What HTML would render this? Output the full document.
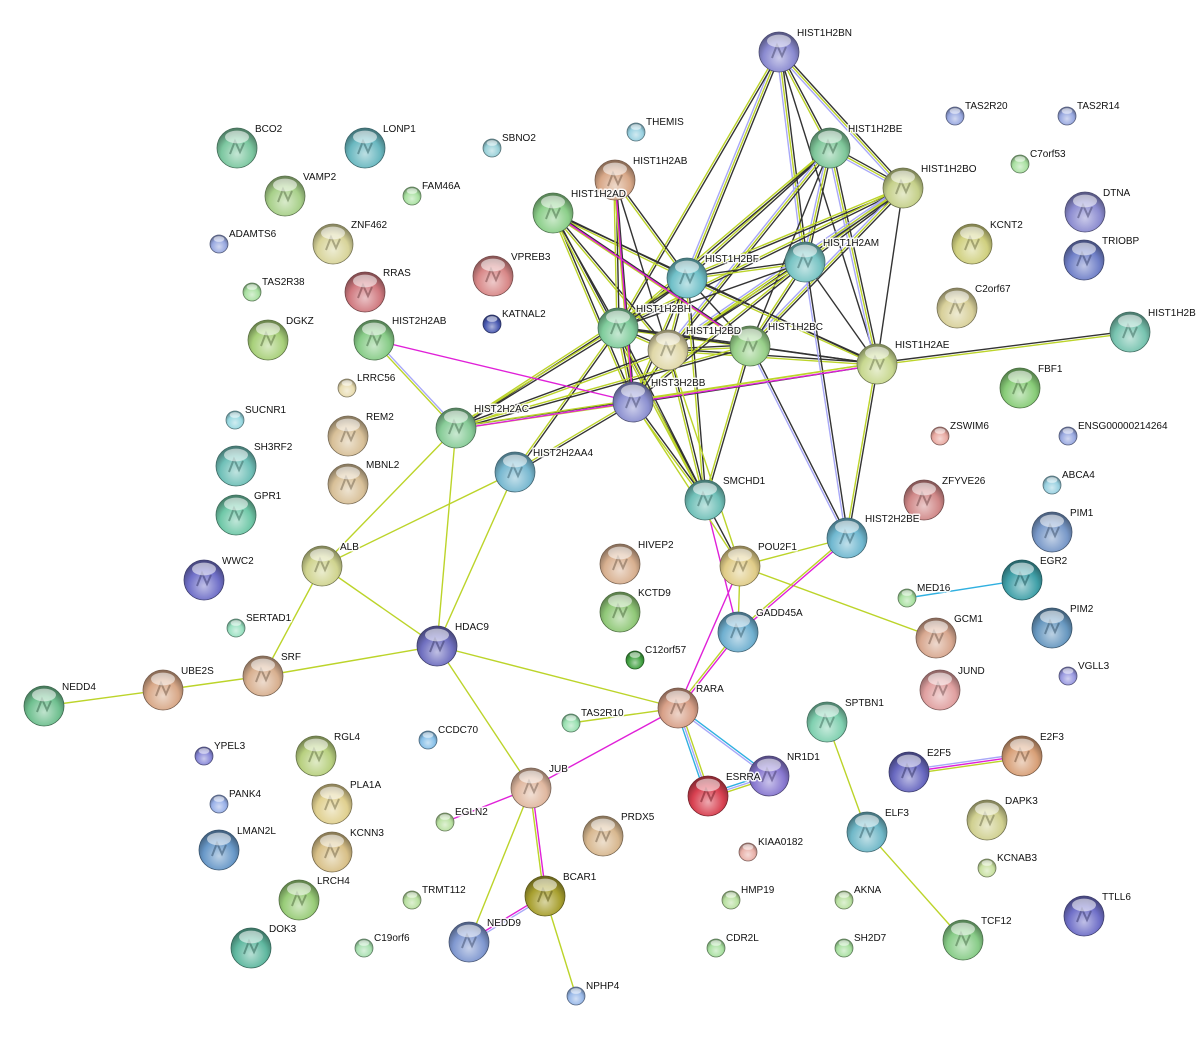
<!DOCTYPE html>
<html><head><meta charset="utf-8">
<style>
html,body{margin:0;padding:0;background:#fff;}
svg{display:block;}
text{font-family:"Liberation Sans",Arial,sans-serif;font-size:10px;fill:#111;}
</style></head>
<body>
<svg id="s" width="1201" height="1042" viewBox="0 0 1201 1042" xmlns="http://www.w3.org/2000/svg">
<defs id="d"></defs>
<g id="e"></g><g id="n"></g><g id="t"></g>
</svg>
<script>
const L=20,S=9;
const N={
"HIST1H2BN":[779,52,L,"#8a8ad0"],"HIST1H2BE":[830,148,L,"#7fc79a"],"HIST1H2BO":[903,188,L,"#c5d08a"],
"BCO2":[237,148,L,"#7cc7a0"],"LONP1":[365,148,L,"#6ab8c0"],"VAMP2":[285,196,L,"#a8d08a"],
"ZNF462":[333,244,L,"#d8d49a"],"HIST1H2AB":[615,180,L,"#d8a888"],"HIST1H2AD":[553,213,L,"#8ccf8a"],
"VPREB3":[493,276,L,"#d88888"],"HIST1H2BF":[687,278,L,"#70c0c8"],"HIST1H2AM":[805,262,L,"#78c4c4"],
"KCNT2":[972,244,L,"#d0d080"],"DTNA":[1085,212,L,"#8c8cd0"],"TRIOBP":[1084,260,L,"#7080c8"],
"RRAS":[365,292,L,"#d07a80"],"C2orf67":[957,308,L,"#d8d09a"],"DGKZ":[268,340,L,"#a8d07a"],
"HIST2H2AB":[374,340,L,"#88cc88"],"HIST1H2BH":[618,328,L,"#80cc9c"],"HIST1H2BD":[668,350,L,"#e0d8a8"],
"HIST1H2BC":[750,346,L,"#98d08a"],"HIST1H2AE":[877,364,L,"#c8d890"],"HIST1H2B":[1130,332,L,"#78c4b0"],
"FBF1":[1020,388,L,"#88cc78"],"HIST3H2BB":[633,402,L,"#8c90d0"],"REM2":[348,436,L,"#d8c098"],
"HIST2H2AC":[456,428,L,"#88cc98"],"HIST2H2AA4":[515,472,L,"#78b8d0"],"SH3RF2":[236,466,L,"#70c0b8"],
"MBNL2":[348,484,L,"#d8c098"],"ZFYVE26":[924,500,L,"#d08888"],"SMCHD1":[705,500,L,"#70c0b8"],
"GPR1":[236,515,L,"#70c8a8"],"PIM1":[1052,532,L,"#7898c8"],"HIST2H2BE":[847,538,L,"#70b8d0"],
"ALB":[322,566,L,"#d0d490"],"HIVEP2":[620,564,L,"#d8b090"],"POU2F1":[740,566,L,"#e0cc88"],
"WWC2":[204,580,L,"#7070c8"],"EGR2":[1022,580,L,"#40a0a8"],"KCTD9":[620,612,L,"#90c878"],
"GADD45A":[738,632,L,"#70b0d0"],"GCM1":[936,638,L,"#d8a890"],"PIM2":[1052,628,L,"#6898c0"],
"HDAC9":[437,646,L,"#7070c0"],"SRF":[263,676,L,"#d8b090"],"UBE2S":[163,690,L,"#d8a888"],
"NEDD4":[44,706,L,"#70c090"],"JUND":[940,690,L,"#e0a0a0"],"RARA":[678,708,L,"#d8a088"],
"SPTBN1":[827,722,L,"#80d0b0"],"NR1D1":[769,776,L,"#8878d0"],"ESRRA":[708,796,L,"#d84050"],
"E2F5":[909,772,L,"#6868c0"],"E2F3":[1022,756,L,"#d8a078"],"RGL4":[316,756,L,"#b8d080"],
"JUB":[531,788,L,"#e0b8a0"],"PLA1A":[332,804,L,"#e0d090"],"LMAN2L":[219,850,L,"#6898c8"],
"KCNN3":[332,852,L,"#d8c088"],"PRDX5":[603,836,L,"#d8b890"],"ELF3":[867,832,L,"#70b8c8"],
"DAPK3":[987,820,L,"#d0d090"],"LRCH4":[299,900,L,"#98cc78"],"BCAR1":[545,896,L,"#a8a030"],
"DOK3":[251,948,L,"#60b8a0"],"NEDD9":[469,942,L,"#8098d0"],"TCF12":[963,940,L,"#88cc88"],
"TTLL6":[1084,916,L,"#7070c8"],
"TAS2R20":[955,116,S,"#98a8e0"],"TAS2R14":[1067,116,S,"#98a8e0"],"THEMIS":[636,132,S,"#98d0e0"],
"SBNO2":[492,148,S,"#98d0d8"],"C7orf53":[1020,164,S,"#a8e0a0"],"FAM46A":[412,196,S,"#a8e0a0"],
"ADAMTS6":[219,244,S,"#98a8e0"],"TAS2R38":[252,292,S,"#a8e0a0"],"KATNAL2":[492,324,S,"#4858b0"],
"LRRC56":[347,388,S,"#e8dcb0"],"SUCNR1":[235,420,S,"#98d8e0"],"ZSWIM6":[940,436,S,"#e8a8a0"],
"ENSG00000214264":[1068,436,S,"#98a8e0"],"ABCA4":[1052,485,S,"#98d0e0"],"MED16":[907,598,S,"#a8e0a0"],
"SERTAD1":[236,628,S,"#98e0c0"],"C12orf57":[635,660,S,"#40a040"],"VGLL3":[1068,676,S,"#9898e0"],
"TAS2R10":[571,723,S,"#98e0b0"],"CCDC70":[428,740,S,"#88c0e8"],"YPEL3":[204,756,S,"#8888d8"],
"PANK4":[219,804,S,"#98b0e8"],"EGLN2":[445,822,S,"#b8e0a0"],"KIAA0182":[748,852,S,"#e8b0a8"],
"KCNAB3":[987,868,S,"#c8e0a0"],"TRMT112":[412,900,S,"#b8e0a0"],"HMP19":[731,900,S,"#b8e0a0"],
"AKNA":[844,900,S,"#b8e0a0"],"C19orf6":[364,948,S,"#a8e0b0"],"CDR2L":[716,948,S,"#a8e0a0"],
"SH2D7":[844,948,S,"#a8e0a0"],"NPHP4":[576,996,S,"#98b8e8"]};
const K="#333",Y="#bcd42a",P="#a8a8f8",M="#e020d8",B="#30b0e0";
const E=[];
function e(a,b,c){E.push([a,b,c]);}
const h="HIST1H2";
let idx=0;
[["BN","BF"],["BN","BE"],["BN","BO"],["BN","BH"],["BN","AM"],["BN","AE"],
["BE","BO"],["BE","BF"],["BE","AM"],["BE","BH"],["BE","BD"],["BE","BC"],["BE","AE"],
["BO","BF"],["BO","AM"],["BO","BH"],["BO","BC"],["BO","AE"],["BO","BD"],
["AD","BF"],["AD","BH"],["AD","BD"],["AD","BC"],["AD","AE"],
["AB","BH"],["AB","BF"],["AB","BD"],
["BF","BH"],["BF","BD"],["BF","BC"],["BF","AM"],["BF","AE"],
["AM","BH"],["AM","BD"],["AM","BC"],["AM","AE"],
["BH","BD"],["BH","BC"],["BH","AE"],["BD","BC"],["BD","AE"],["BC","AE"]].forEach(p=>{idx++;
 const c=(p[0]=="BN"||p[0]=="BE"||p[0]=="BO")&&idx%2?[K,Y,P]:(idx%3==0?[K]:[K,Y]);e(h+p[0],h+p[1],c);});
[["HIST1H2AD","HIST3H2BB"],["HIST1H2AD","SMCHD1"],["HIST1H2AB","HIST3H2BB"],["HIST1H2BF","HIST3H2BB"],
["HIST1H2BF","SMCHD1"],["HIST1H2BF","HIST2H2AC"],["HIST1H2AM","HIST3H2BB"],["HIST1H2BH","HIST2H2AC"],
["HIST1H2BH","HIST2H2AA4"],["HIST1H2BH","SMCHD1"],["HIST1H2BH","HIST3H2BB"],["HIST1H2BD","HIST3H2BB"],
["HIST1H2BD","SMCHD1"],["HIST1H2BC","SMCHD1"],["HIST1H2BC","HIST2H2AC"],["HIST1H2AE","HIST3H2BB"],
["HIST2H2AC","HIST1H2BD"],["HIST3H2BB","SMCHD1"],["HIST3H2BB","HIST2H2AA4"],["HIST2H2AC","HIST3H2BB"]].forEach(p=>e(p[0],p[1],[K,Y]));
e("HIST1H2AM","HIST2H2BE",[K,P]);e("HIST1H2BC","HIST2H2BE",[K,P]);
e("HIST1H2AE","HIST1H2B",[K,Y]);e("HIST1H2AE","HIST2H2BE",[K,Y]);
e("HIST1H2AE","HIST2H2AC",[M,Y]);e("HIST2H2AB","HIST2H2AC",[P,Y]);e("HIST2H2AB","HIST3H2BB",[M]);
e("HIST1H2AD","HIST1H2BC",[M]);e("HIST1H2AB","HIST3H2BB",[M]);
e("HIST2H2AC","ALB",[Y]);e("HIST2H2AC","HDAC9",[Y]);e("HIST2H2AA4","ALB",[Y]);e("HIST2H2AA4","HDAC9",[Y]);
e("SMCHD1","GADD45A",[M]);e("SMCHD1","POU2F1",[K]);e("HIST3H2BB","POU2F1",[Y]);e("HIST1H2BD","POU2F1",[Y]);
e("POU2F1","HIST2H2BE",[Y]);e("POU2F1","GADD45A",[Y]);e("POU2F1","GCM1",[Y]);e("POU2F1","RARA",[M]);
e("HIST2H2BE","GADD45A",[M,Y]);e("GADD45A","RARA",[M,Y]);
e("ALB","SRF",[Y]);e("ALB","HDAC9",[Y]);e("SRF","UBE2S",[Y]);e("UBE2S","NEDD4",[Y]);e("SRF","HDAC9",[Y]);
e("HDAC9","RARA",[Y]);e("HDAC9","JUB",[Y]);e("RARA","JUB",[M]);e("RARA","NR1D1",[B,P]);
e("RARA","ESRRA",[Y,P,B]);e("NR1D1","ESRRA",[Y,P,B]);e("RARA","TAS2R10",[Y]);
e("JUB","EGLN2",[M]);e("JUB","NEDD9",[Y]);e("JUB","BCAR1",[M,Y]);e("BCAR1","NEDD9",[P,M]);e("BCAR1","NPHP4",[Y]);
e("MED16","EGR2",[B]);e("E2F5","E2F3",[P,M,Y]);e("SPTBN1","ELF3",[Y]);e("ELF3","TCF12",[Y]);
const ns="http://www.w3.org/2000/svg";
function el(t,a,p){const x=document.createElementNS(ns,t);for(const k in a)x.setAttribute(k,a[k]);p.appendChild(x);return x;}
const eg=document.getElementById("e"),ng=document.getElementById("n"),tg=document.getElementById("t"),dg=document.getElementById("d");
E.forEach(([a,b,cs])=>{const A=N[a],Bn=N[b];if(!A||!Bn)return;
 const dx=Bn[0]-A[0],dy=Bn[1]-A[1],l=Math.hypot(dx,dy),px=-dy/l,py=dx/l;
 cs.forEach((c,i)=>{const o=(i-(cs.length-1)/2)*2.2;
  el("line",{x1:A[0]+px*o,y1:A[1]+py*o,x2:Bn[0]+px*o,y2:Bn[1]+py*o,stroke:c,"stroke-width":1.4},eg);});});
function mix(h,t,f){const n=parseInt(h.slice(1),16);let r=n>>16,g=(n>>8)&255,b=n&255;const tv=t?255:0;
 r=Math.round(r+(tv-r)*f);g=Math.round(g+(tv-g)*f);b=Math.round(b+(tv-b)*f);return `rgb(${r},${g},${b})`;}
let i=0;
for(const k in N){const [x,y,r,c]=N[k];i++;
 const gr=el("radialGradient",{id:"g"+i,cx:"50%",cy:"65%",r:"60%"},dg);
 el("stop",{offset:"0%","stop-color":mix(c,1,0.55)},gr);
 el("stop",{offset:"65%","stop-color":c},gr);
 el("stop",{offset:"100%","stop-color":mix(c,0,0.35)},gr);
 el("circle",{cx:x,cy:y,r:r,fill:"url(#g"+i+")",stroke:mix(c,0,0.45),"stroke-width":0.8},ng);
 if(r>10){el("path",{d:`M${x-7} ${y+6} L${x-2} ${y-7} L${x+3} ${y+4} L${x+7} ${y-5}`,fill:"none",stroke:mix(c,0,0.4),"stroke-width":2,opacity:0.6},ng);}
 el("ellipse",{cx:x,cy:y-r*0.55,rx:r*0.6,ry:r*0.32,fill:"#fff",opacity:0.55},ng);
 const tx=x+(r>10?18:10),ty=y-(r>10?16:7);
 const t=el("text",{x:tx,y:ty,stroke:"#fff","stroke-width":3,"stroke-linejoin":"round",opacity:0.9},tg);t.textContent=k;
 const t2=el("text",{x:tx,y:ty},tg);t2.textContent=k;}
</script>
</body></html>
